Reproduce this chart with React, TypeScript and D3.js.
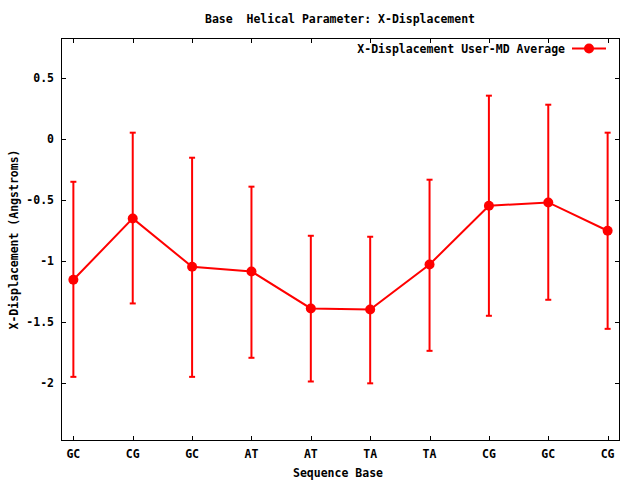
import React from "react";
import * as d3 from "d3";

const categories = ["GC", "CG", "GC", "AT", "AT", "TA", "TA", "CG", "GC", "CG"];
const averages = [-1.152, -0.65, -1.046, -1.084, -1.387, -1.395, -1.027, -0.546, -0.519, -0.751];
const upper = [-0.35, 0.052, -0.153, -0.39, -0.792, -0.8, -0.333, 0.355, 0.281, 0.052];
const lower = [-1.947, -1.346, -1.947, -1.791, -1.985, -2.0, -1.734, -1.447, -1.316, -1.554];
const yTicks = [0.5, 0, -0.5, -1, -1.5, -2];
const yTickLabels = ["0.5", "0", "-0.5", "-1", "-1.5", "-2"];

const title = "Base  Helical Parameter: X-Displacement";
const xLabel = "Sequence Base";
const yLabel = "X-Displacement (Angstroms)";
const seriesName = "X-Displacement User-MD Average";

const W = 640, H = 480;
const L = 61.5, R = 619.5, T = 38.5, B = 440.5;
const RED = "#ff0000";
const FONT = "'DejaVu Sans Mono', monospace";

export default function App() {
  const x = d3.scaleLinear().domain([-0.2, 9.2]).range([L, R]);
  const y = d3.scaleLinear().domain([-2.468, 0.823]).range([B, T]);
  const idx = categories.map((_, i) => i);
  const line = d3.line<number>().x((i) => x(i)).y((i) => y(averages[i]));
  const tl = 4.5;
  const textStyle: React.CSSProperties = {
    fontFamily: FONT,
    fontSize: 11.5,
    fontWeight: "bold",
    fill: "#000",
    whiteSpace: "pre",
  };

  return (
    <svg width={W} height={H} style={{ position: "absolute", left: 0, top: 0, background: "#fff" }}>
      <rect x={0} y={0} width={W} height={H} fill="#fff" />
      {/* ticks */}
      <g stroke="#000" strokeWidth={1} shapeRendering="crispEdges">
        {yTicks.map((t) => (
          <g key={"yt" + t}>
            <line x1={L} x2={L + tl} y1={Math.round(y(t)) + 0.5} y2={Math.round(y(t)) + 0.5} />
            <line x1={R} x2={R - tl} y1={Math.round(y(t)) + 0.5} y2={Math.round(y(t)) + 0.5} />
          </g>
        ))}
        {idx.map((i) => (
          <g key={"xt" + i}>
            <line x1={Math.round(x(i)) + 0.5} x2={Math.round(x(i)) + 0.5} y1={B} y2={B - tl} />
            <line x1={Math.round(x(i)) + 0.5} x2={Math.round(x(i)) + 0.5} y1={T} y2={T + tl} />
          </g>
        ))}
        <rect x={L} y={T} width={R - L} height={B - T} fill="none" />
      </g>
      {/* tick labels */}
      {yTicks.map((t, k) => (
        <text key={"yl" + t} x={54} y={y(t)} dy="0.35em" textAnchor="end" style={textStyle}>
          {yTickLabels[k]}
        </text>
      ))}
      {idx.map((i) => (
        <text key={"xl" + i} x={x(i)} y={458} textAnchor="middle" style={textStyle}>
          {categories[i]}
        </text>
      ))}
      {/* titles */}
      <text x={340} y={23} textAnchor="middle" xmlSpace="preserve" style={textStyle}>{title}</text>
      <text x={338} y={477} textAnchor="middle" style={textStyle}>{xLabel}</text>
      <text transform={`translate(17.5,${(T + B) / 2}) rotate(-90)`} textAnchor="middle" style={textStyle}>
        {yLabel}
      </text>
      {/* error bars */}
      <g stroke={RED} strokeWidth={2}>
        {idx.map((i) => (
          <g key={"eb" + i}>
            <line x1={x(i)} x2={x(i)} y1={y(upper[i])} y2={y(lower[i])} />
            <line x1={x(i) - 3} x2={x(i) + 3} y1={y(upper[i])} y2={y(upper[i])} />
            <line x1={x(i) - 3} x2={x(i) + 3} y1={y(lower[i])} y2={y(lower[i])} />
          </g>
        ))}
      </g>
      <path d={line(idx) || ""} fill="none" stroke={RED} strokeWidth={2} />
      {idx.map((i) => (
        <circle key={"pt" + i} cx={x(i)} cy={y(averages[i])} r={5} fill={RED} />
      ))}
      {/* legend */}
      <text x={565} y={53} textAnchor="end" style={textStyle}>{seriesName}</text>
      <line x1={572} x2={606} y1={48.5} y2={48.5} stroke={RED} strokeWidth={2} />
      <circle cx={589} cy={48.5} r={5} fill={RED} />
    </svg>
  );
}
